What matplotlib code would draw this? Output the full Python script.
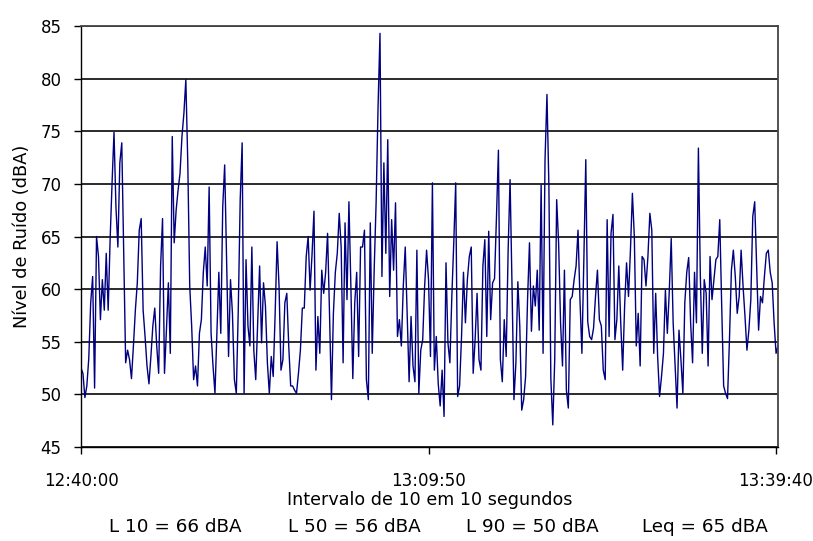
import numpy as np
import matplotlib
matplotlib.use('Agg')
import matplotlib.pyplot as plt

# nivel de ruido (dBA), uma leitura a cada 10 s, 12:40:00 -> 13:39:50
nivel = [
    52.5, 52.0, 49.7, 50.8, 53.4, 58.7, 61.2, 50.6, 65.0, 63.1,
    57.1, 60.9, 58.0, 63.4, 58.0, 64.7, 70.1, 74.9, 67.8, 64.0,
    72.0, 73.9, 63.4, 53.0, 54.2, 53.3, 51.5, 54.6, 58.0, 60.6,
    65.6, 66.7, 58.0, 55.5, 52.7,
    51.0, 53.6, 56.5, 58.2, 54.6, 52.0, 62.2, 66.7, 52.0, 56.1,
    60.6, 53.9, 74.5, 64.4, 67.5, 69.4, 71.0, 74.5, 76.7, 79.9,
    72.0, 60.3, 56.5, 51.4, 52.7, 50.8, 55.8, 57.1, 61.6, 64.0,
    60.3, 69.7, 55.8, 52.7, 50.1, 55.8, 61.6,
    55.8, 67.8, 71.8, 62.5, 53.6, 60.9, 57.7, 51.4, 50.1, 58.0,
    68.5, 73.9, 50.1, 62.8, 56.5, 54.6, 64.0, 54.2, 51.4, 56.8,
    62.2, 54.9, 60.6, 58.4, 53.0, 50.1, 53.6, 51.7, 57.7, 64.5,
    60.3, 52.3, 53.3, 58.7, 59.6, 54.6, 50.8,
    50.8, 50.4, 50.1, 52.0, 54.2, 58.2, 58.2, 63.1, 65.0, 59.9,
    63.3, 67.4, 52.3, 57.4, 53.9, 61.8, 59.6, 61.6, 65.3, 57.7,
    49.5, 57.7, 61.6, 63.4, 67.2, 64.0, 53.0, 66.3, 59.0, 68.3,
    60.3, 51.5, 58.7, 61.6, 53.6, 64.0,
    64.0, 65.6, 51.4, 49.5, 66.3, 53.9, 61.8, 68.2, 77.3, 84.3,
    61.2, 72.0, 63.4, 74.2, 59.3, 66.6, 61.8, 68.2, 55.5, 57.1,
    54.6, 60.3, 64.0, 57.7, 51.2, 57.4, 52.7, 51.2, 63.7, 50.1,
    54.2, 55.2, 60.3, 63.7, 60.9, 53.6,
    70.1, 52.3, 55.5, 51.0, 48.9, 52.3, 47.9, 62.5, 54.9, 53.0,
    59.3, 64.4, 70.1, 49.8, 50.8, 55.5, 61.6, 56.8, 60.9, 63.1,
    64.0, 52.0, 55.2, 59.6, 53.3, 52.3, 62.2, 64.7, 55.5, 65.5,
    57.1, 60.6, 61.0, 66.9, 73.2, 53.3,
    51.2, 57.1, 53.6, 63.7, 70.4, 60.3, 49.5, 53.0, 60.7, 56.5,
    48.5, 49.5, 51.7, 59.0, 64.4, 56.0, 60.3, 58.4, 61.8, 56.1,
    69.9, 53.9, 72.3, 78.5, 69.7, 51.5, 47.1, 53.3, 68.5, 64.4,
    56.8, 52.7, 61.8, 50.4, 48.7, 59.0,
    59.3, 60.9, 62.2, 65.6, 59.0, 53.9, 62.8, 72.3, 56.9, 55.5,
    55.2, 56.3, 59.3, 61.8, 57.1, 56.5, 52.3, 51.4, 66.6, 55.5,
    65.3, 67.1, 55.2, 57.1, 62.2, 56.8, 52.3, 58.4, 62.5, 59.3,
    63.7, 69.1, 65.0, 54.6, 57.7, 52.7,
    63.1, 62.8, 60.3, 63.1, 67.2, 65.6, 53.9, 59.6, 53.6, 49.8,
    51.7, 53.9, 59.9, 55.8, 59.8, 64.8, 56.8, 52.7, 48.7, 56.1,
    53.3, 50.1, 58.7, 61.6, 63.0, 56.8, 53.0, 61.6, 56.8, 73.4,
    61.2, 53.9, 60.9, 59.6, 52.7, 63.1,
    59.0, 60.9, 62.8, 63.1, 66.6, 58.4, 50.8, 50.1, 49.6, 55.2,
    61.8, 63.7, 61.2, 57.7, 59.3, 63.7, 60.3, 57.4, 54.2, 56.1,
    59.0, 66.9, 68.3, 62.2, 56.1, 59.3, 58.7, 61.2, 63.4, 63.7,
    61.6, 60.6, 56.8, 53.9, 54.6,
]

x_ticks = [0, 179, 358]
x_labels = ['12:40:00', '13:09:50', '13:39:40']
estatisticas = ['L 10 = 66 dBA', 'L 50 = 56 dBA', 'L 90 = 50 dBA', 'Leq = 65 dBA']

plt.rcParams['font.family'] = ['DejaVu Sans']
plt.rcParams['font.size'] = 12

fig = plt.figure(figsize=(8.13, 5.41), dpi=100)
ax = fig.add_axes([81/813, 1-447/541, 697/813, 421/541])

ax.plot(np.arange(len(nivel)), nivel, color='#000080', linewidth=1.0)

ax.set_xlim(0, len(nivel)-1)
ax.set_ylim(45, 85)
ax.set_yticks(np.arange(45, 86, 5))
ax.set_xticks(x_ticks)
ax.set_xticklabels(x_labels)
ax.yaxis.grid(True, color='#1a1a1a', linewidth=1.3)
ax.set_axisbelow(True)

for s in ['top', 'right']:
    ax.spines[s].set_color('#444444')
    ax.spines[s].set_linewidth(1.3)
for s in ['left', 'bottom']:
    ax.spines[s].set_color('black')
    ax.spines[s].set_linewidth(1.0)
ax.tick_params(axis='both', direction='out', length=5, width=1, color='black', labelsize=12)
ax.tick_params(axis='x', pad=13)
ax.tick_params(axis='y', pad=9)

ax.set_ylabel('Nível de Ruído (dBA)', fontsize=12.8, labelpad=7)
ax.set_xlabel('Intervalo de 10 em 10 segundos', fontsize=12.6, labelpad=1)

for xc, txt in zip([175, 354, 532, 705], estatisticas):
    fig.text(xc/813, 1-527/541, txt, ha='center', va='center', fontsize=13.2)

fig.savefig('out.png', dpi=100)
